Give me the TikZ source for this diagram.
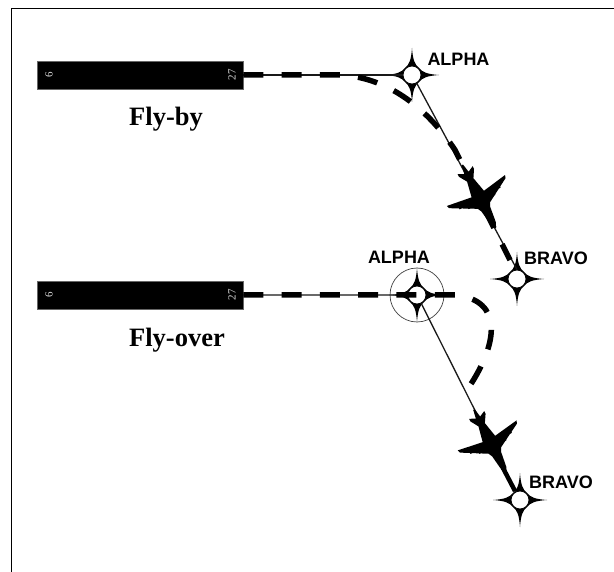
\documentclass[tikz,border=0pt]{standalone}
\usepackage{fontspec}
\setmainfont{Liberation Serif}
\newfontfamily\labelfont{Liberation Sans}
\begin{document}
\begin{tikzpicture}[x=1pt,y=-1pt,
    runway/.style={rectangle,fill=black,draw=black!60,line width=.5pt,minimum width=206pt,minimum height=28pt,inner sep=0pt},
    rwynum/.style={text=black!15,font=\fontsize{11}{11}\selectfont,rotate=90,inner sep=0pt},
    waypoint/.style={circle,fill=white,draw=black,line width=.8pt,minimum size=18pt,inner sep=0pt},
    overring/.style={circle,draw=black!75,line width=.7pt,minimum size=54pt,inner sep=0pt},
    wplabel/.style={font=\labelfont\bfseries\fontsize{18}{18}\selectfont,inner sep=0pt},
    title/.style={font=\bfseries\fontsize{26.5}{26.5}\selectfont,anchor=base,inner sep=0pt},
    track/.style={line width=1.3pt,black!90},
    flown/.style={line width=5.5pt,dash pattern=on 20pt off 18.3pt},
    wpstar/.pic={
        \fill[black] (27,0) .. controls (15,.8) and (10,3) .. (7,7) .. controls (3,10) and (.8,15) .. (0,27)
            .. controls (-.8,15) and (-3,10) .. (-7,7) .. controls (-10,3) and (-15,.8) .. (-27,0)
            .. controls (-15,-.8) and (-10,-3) .. (-7,-7) .. controls (-3,-10) and (-.8,-15) .. (0,-27)
            .. controls (.8,-15) and (3,-10) .. (7,-7) .. controls (10,-3) and (15,-.8) .. (27,0) -- cycle;
    },
    jet/.pic={
        \fill[black] (30,0) -- (24,2.8) -- (8,5) -- (4,7) -- (-10,32) -- (-13,33) -- (-9,7) -- (-25,3.6)
            -- (-33,8.5) -- (-36,8.5) -- (-33,2.4) -- (-42,.8) -- (-42,-.8) -- (-33,-2.4) -- (-36,-8.5) -- (-33,-8.5)
            -- (-25,-3.6) -- (-9,-7) -- (-13,-33) -- (-10,-32) -- (4,-7) -- (8,-5) -- (24,-2.8) -- cycle;
        \foreach \u/\v in {-5/14,-9/22,-5/-14,-9/-22}
            \fill[black] ({\u},{\v-1.2}) rectangle ({\u+5},{\v+1.2});
    }]
    \useasboundingbox (0,0) rectangle (614,572);
    \draw[line width=1pt] (11,572) -- (11,9) -- (614,9);

    \node[runway] (rwyA) at (140,75) {};
    \node[runway] (rwyB) at (140,295) {};
    \node[rwynum] (numA) at (49,75) {6};
    \node[rwynum] (numB) at (232,75) {27};
    \node[rwynum] (numC) at (49,295) {6};
    \node[rwynum] (numD) at (232,295) {27};

    \node[overring] (ringB) at (417,295) {};
    \pic at (412,75) {wpstar};
    \pic at (517,279) {wpstar};
    \pic at (417,295) {wpstar};
    \pic at (520,500) {wpstar};
    \node[waypoint] (alphaA) at (412,75) {};
    \node[waypoint] (bravoA) at (517,279) {};
    \node[waypoint] (alphaB) at (417,295) {};
    \node[waypoint] (bravoB) at (520,500) {};

    \node[wplabel] (alphaAtxt) at (458.5,59) {ALPHA};
    \node[wplabel] (bravoAtxt) at (556,258) {BRAVO};
    \node[wplabel] (alphaBtxt) at (399,257) {ALPHA};
    \node[wplabel] (bravoBtxt) at (561,482) {BRAVO};
    \node[title] (flybyA) at (166,126) {Fly-by};
    \node[title] (flyoverB) at (177,347) {Fly-over};

    \draw[track] (rwyA) -- (alphaA);
    \draw[track] (alphaA.-60) -- (bravoA.north);
    \draw[track] (rwyB) -- (alphaB) -- (bravoB);

    \coordinate (turnA) at (340,75);
    \coordinate (exitA) at (455,150);
    \coordinate (endA) at (510,260);
    \draw[flown] (rwyA.east) -- (turnA) .. controls (385,77) and (425,105) .. (exitA) -- (endA);
    \coordinate (overB) at (455,295);
    \coordinate (endB) at (469,387);
    \draw[flown] (rwyB.east) -- (overB) .. controls (505,300) and (497,345) .. (endB);
    \coordinate (noseB) at (503,468);
    \coordinate (tipB) at (515,491);
    \draw[line width=4.5pt] (noseB) -- (tipB);
    \pic[rotate=-62] at (482,202) {jet};
    \pic[rotate=-63] at (493,447) {jet};
\end{tikzpicture}
\end{document}
